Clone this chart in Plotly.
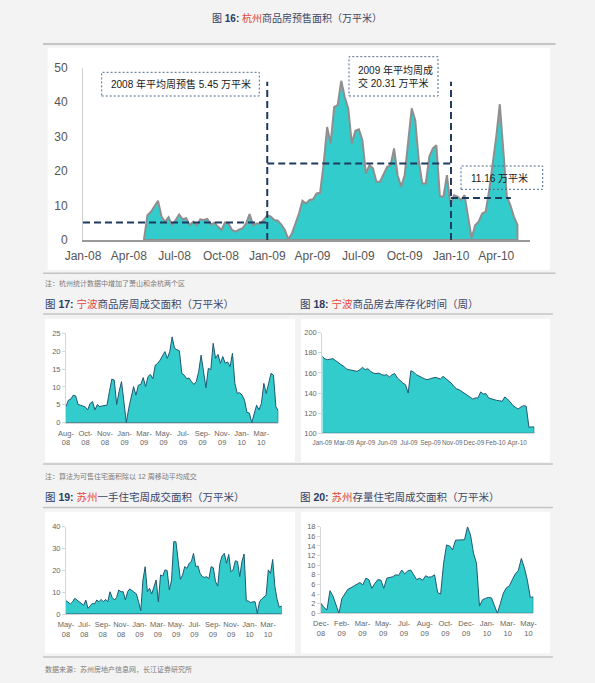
import plotly.graph_objects as go
import pandas as pd

W, H = 595, 683

# ---------------- data ----------------
# Fig 16: Hangzhou weekly pre-sale area (10k m2), weekly from hz_start
hz_start = "2008-05-01"
hz_presale = [
    0, 7.2, 8.2, 9.7, 11.4, 6.8, 5.3, 6.6, 4.3, 5.8,
    7.4, 6.0, 6.3, 4.3, 5.3, 4.3, 6.0, 5.8, 6.1, 4.5,
    5.0, 3.9, 2.9, 5.1, 4.8, 2.9, 2.4, 3.0, 3.4, 4.8,
    7.5, 4.3, 4.8, 4.8, 5.8, 7.2, 6.8, 5.8, 5.6, 4.5,
    2.9, 0.2, 1.9, 4.8, 7.7, 11.4, 10.6, 11.6, 11.8, 13.5,
    13.7, 22.0, 32.8, 28.0, 38.6, 39.1, 46.2, 41.5, 38.2, 28.0,
    31.7, 32.1, 29.0, 19.3, 21.7, 20.8, 16.9, 16.9, 19.3, 21.2,
    21.7, 26.6, 18.8, 15.5, 18.8, 28.0, 38.2, 34.8, 23.2, 16.4,
    16.4, 24.2, 26.6, 27.5, 12.6, 12.6, 18.8, 10.1, 13.0, 12.6,
    11.6, 13.0, 6.3, 0.5, 4.3, 5.3, 7.7, 8.2, 14.5, 22.2,
    30.0, 39.4, 27.0, 12.6, 10.1, 6.8, 4.4,
]
hz_tick_dates = ["2008-01-01", "2008-04-01", "2008-07-01", "2008-10-01", "2009-01-01",
                 "2009-04-01", "2009-07-01", "2009-10-01", "2010-01-01", "2010-04-01"]
hz_tick_labels = ["Jan-08", "Apr-08", "Jul-08", "Oct-08", "Jan-09",
                  "Apr-09", "Jul-09", "Oct-09", "Jan-10", "Apr-10"]
hz_avg_start = ["2008-01-01", "2009-01-01", "2010-01-01"]
hz_avg_end = ["2009-01-01", "2010-01-01", "2010-04-30"]
hz_avg_level = [5.1, 22.2, 12.2]
hz_divider_dates = ["2009-01-01", "2010-01-01"]
hz_divider_top = 45.9
hz_box_texts = ["2008 年平均周预售 5.45 万平米", "2009 年平均周成<br>交 20.31 万平米", "11.16 万平米"]

# Fig 17: Ningbo weekly transaction area (10k m2)
nb_deal = [
    4.5, 6.3, 6.6, 7.7, 7.5, 5.1, 4.9, 4.7, 4.4, 3.6,
    5.4, 5.9, 3.6, 5.1, 4.5, 4.7, 4.7, 4.9, 8.7, 12.2,
    11.9, 5.1, 8.7, 11.5, 5.9, 0.0, 4.0, 6.8, 10.1, 7.7,
    10.5, 10.7, 12.6, 10.1, 12.9, 13.5, 12.3, 16.1, 16.6, 17.5,
    18.9, 19.9, 18.0, 19.9, 24.0, 20.8, 20.4, 20.1, 13.8, 13.3,
    12.3, 12.5, 11.5, 10.7, 11.5, 14.3, 18.9, 14.3, 9.8, 15.2,
    14.8, 22.2, 18.0, 19.1, 16.6, 18.5, 16.6, 17.0, 15.7, 19.4,
    11.0, 8.2, 8.4, 7.7, 6.3, 2.9, 2.7, 0.0, 2.6, 4.9,
    3.6, 5.4, 11.0, 8.2, 11.0, 13.8, 13.3, 4.5, 3.3,
]
nb_deal_labels = ["Aug-<br>08", "Oct-<br>08", "Nov-<br>08", "Jan-<br>09", "Mar-<br>09", "May-<br>09",
                  "Jul-<br>09", "Sep-<br>09", "Nov-<br>09", "Jan-<br>10", "Mar-<br>10"]

# Fig 18: Ningbo inventory clearance time (weeks)
nb_weeks = [
    176.5, 173.9, 173.2, 173.9, 174.2, 172.2, 169.9, 168.2, 166.6, 163.9,
    163.2, 162.9, 162.2, 161.6, 163.2, 165.6, 163.2, 164.2, 161.6, 159.9,
    159.3, 159.9, 158.5, 157.7, 158.3, 156.0, 158.3, 159.3, 155.0, 152.3,
    150.0, 148.3, 140.0, 162.2, 161.0, 158.3, 156.6, 155.6, 154.3, 153.3,
    154.0, 155.0, 155.6, 155.0, 154.0, 156.6, 154.3, 151.7, 150.0, 146.7,
    144.3, 143.3, 141.7, 139.4, 138.4, 136.1, 134.1, 135.1, 135.1, 141.1,
    139.1, 139.4, 135.1, 134.1, 133.4, 132.7, 132.4, 131.8, 136.1, 134.1,
    131.1, 127.8, 125.8, 124.2, 126.1, 127.5, 126.8, 106.0, 106.3, 106.3,
]
nb_weeks_labels = ["Jan-09", "Mar-09", "Apr-09", "Jun-09", "Jul-09", "Sep-09", "Nov-09",
                   "Dec-09", "Feb-10", "Apr-10"]

# Fig 19: Suzhou new housing weekly transaction area (10k m2)
sz_new = [
    6.1, 5.2, 4.6, 5.6, 7.2, 6.4, 5.6, 4.9, 4.0, 6.4,
    2.6, 3.7, 4.9, 4.6, 6.4, 5.6, 6.7, 5.6, 6.7, 5.6,
    10.2, 7.6, 6.4, 7.6, 11.0, 10.2, 10.2, 6.4, 10.2, 11.5,
    10.7, 9.8, 9.2, 5.6, 1.5, 15.6, 21.7, 10.2, 11.8, 9.2,
    12.5, 15.6, 5.6, 17.9, 17.4, 20.2, 19.9, 11.0, 15.6, 33.1,
    33.1, 24.7, 15.9, 17.9, 21.7, 20.9, 23.2, 24.0, 27.8, 21.7,
    22.0, 18.6, 17.1, 16.8, 17.1, 16.2, 21.7, 21.2, 14.8, 12.8,
    23.2, 26.6, 27.8, 23.2, 27.3, 19.4, 20.2, 24.4, 24.0, 17.1,
    24.0, 27.5, 6.1, 5.9, 5.2, 5.6, 5.6, 0.3, 5.6, 6.9,
    7.9, 8.6, 20.2, 18.6, 25.0, 12.5, 6.7, 3.1, 3.7,
]
sz_new_labels = ["May-<br>08", "Jul-<br>08", "Sep-<br>08", "Nov-<br>08", "Jan-<br>09", "Mar-<br>09",
                 "May-<br>09", "Jul-<br>09", "Sep-<br>09", "Nov-<br>09", "Jan-<br>10", "Mar-<br>10"]

# Fig 20: Suzhou existing housing weekly transaction area (10k m2)
sz_resale = [
    2.1, 1.2, 0.7, 4.7, 3.6, 1.9, 0.0, 3.1, 4.2, 5.0,
    5.3, 5.7, 6.1, 6.4, 5.9, 7.3, 7.0, 5.2, 6.2, 7.0,
    6.9, 5.2, 7.3, 7.4, 7.6, 8.0, 7.9, 9.0, 8.2, 8.8,
    9.0, 8.0, 7.0, 7.3, 6.9, 7.8, 7.5, 7.6, 8.0, 4.3,
    4.0, 10.4, 14.2, 14.0, 13.2, 15.2, 15.2, 15.2, 15.3, 18.0,
    16.3, 12.5, 10.4, 1.5, 2.8, 3.1, 3.3, 3.2, 1.5, 0.0,
    2.1, 4.2, 5.3, 5.7, 7.0, 8.2, 8.9, 11.4, 9.5, 6.9,
    3.3, 3.4,
]
sz_resale_labels = ["Dec-<br>08", "Feb-<br>09", "Mar-<br>09", "May-<br>09", "Jul-<br>09", "Aug-<br>09",
                    "Oct-<br>09", "Dec-<br>09", "Jan-<br>10", "Mar-<br>10", "May-<br>10"]

# ---------------- style ----------------
PAGE_BG = "#f3f3f3"
TEAL = "#33cccc"
DARK_LINE = "#1f5873"
NAVY = "#1f3a60"
SEP = "#c4c4c4"
LAT = "Liberation Sans, Arial, Noto Sans CJK SC"
NARROW = "Liberation Sans Narrow, Arial Narrow, Liberation Sans"
CJK = "Liberation Sans, Noto Sans CJK SC"


def px(x):
    return x / W


def py(y):
    return 1 - y / H


fig = go.Figure()

# ---------- panels / separators ----------
panels = [(47.7, 47.7, 550, 270), (45, 319, 295, 462), (301, 319, 550, 462),
          (45, 511.7, 295, 653.5), (301, 511.7, 550, 653.5)]
for x0, y0, x1, y1 in panels:
    fig.add_shape(type="rect", xref="paper", yref="paper", x0=px(x0), x1=px(x1), y0=py(y1), y1=py(y0),
                  fillcolor="white", line_width=0, layer="below")
seps = [(43, 555.5, 44, 2), (43, 555.5, 273.3, 1.5), (43, 553, 314, 1.5), (43, 553, 464, 1.5),
        (43, 553, 507.5, 1.5), (43, 553, 657, 1.5)]
for x0, x1, y, w in seps:
    fig.add_shape(type="line", xref="paper", yref="paper", x0=px(x0), x1=px(x1), y0=py(y), y1=py(y),
                  line=dict(color=SEP, width=w), layer="below")

# ---------- Fig 16 main ----------
hz_dates = pd.date_range(hz_start, periods=len(hz_presale), freq="7D")
hz_x = list(hz_dates) + [hz_dates[-1], hz_dates[0]]
hz_y = list(hz_presale) + [0, 0]
fig.add_trace(go.Scatter(x=hz_x, y=hz_y, mode="lines", fill="toself", fillcolor=TEAL,
                         line=dict(color="#8f8f8f", width=2), xaxis="x", yaxis="y",
                         showlegend=False, hoverinfo="skip"))

dash_style = "7px,4px"
for s, e, lv in zip(hz_avg_start, hz_avg_end, hz_avg_level):
    fig.add_shape(type="line", xref="x", yref="y", x0=s, x1=e, y0=lv, y1=lv,
                  line=dict(color=NAVY, width=2, dash=dash_style))
for d in hz_divider_dates:
    fig.add_shape(type="line", xref="x", yref="y", x0=d, x1=d, y0=0, y1=hz_divider_top,
                  line=dict(color=NAVY, width=2, dash=dash_style))

boxes = [(101.7, 72.3, 259.3, 96), (349, 56.7, 438, 96), (461, 166, 542.7, 189.3)]
for x0, y0, x1, y1 in boxes:
    fig.add_shape(type="rect", xref="paper", yref="paper", x0=px(x0), x1=px(x1), y0=py(y1), y1=py(y0),
                  line=dict(color="#4d6a8c", width=1, dash="2px,2px"), fillcolor="rgba(0,0,0,0)")
box_text_pos = [(180.5, 84.5, "center", "center"), (356, 76.5, "left", "left"), (469, 177.5, "left", "left")]
for (tx, ty, xa, al), t in zip(box_text_pos, hz_box_texts):
    fig.add_annotation(x=px(tx), y=py(ty), xref="paper", yref="paper", text=t, showarrow=False,
                       xanchor=xa, yanchor="middle", align=al,
                       font=dict(family=CJK, size=10, color="#1a1a1a"))

# ---------- small charts ----------
def add_area(values, base, xa, ya):
    n = len(values)
    xs = list(range(n)) + [n - 1, 0]
    ys = list(values) + [base, base]
    fig.add_trace(go.Scatter(x=xs, y=ys, mode="lines", fill="toself", fillcolor=TEAL,
                             line=dict(color=DARK_LINE, width=1), xaxis=xa, yaxis=ya,
                             showlegend=False, hoverinfo="skip"))


add_area(nb_deal, 0, "x2", "y2")
add_area(nb_weeks, 100, "x3", "y3")
add_area(sz_new, 0, "x4", "y4")
add_area(sz_resale, 0, "x5", "y5")

small_font = dict(family=NARROW, size=7.5, color="#666666")
axis_common_y = dict(showgrid=False, zeroline=False, showline=True, linecolor="#d6d6d6", linewidth=1,
                     ticks="outside", ticklen=3, tickcolor="#d6d6d6", automargin=False,
                     tickfont=small_font)
axis_common_x = dict(showgrid=False, zeroline=False, showline=True, linecolor="#d6d6d6", ticks="",
                     tickmode="array", tickangle=0, automargin=False, ticklabelstandoff=3)


def ticks_for(labels, step):
    return [i * step for i in range(len(labels))]


layout = dict(
    template="none",
    width=W, height=H, margin=dict(l=0, r=0, t=0, b=0, pad=0), autosize=False,
    paper_bgcolor=PAGE_BG, plot_bgcolor="rgba(0,0,0,0)", showlegend=False,
    xaxis=dict(domain=[px(83), px(530)], type="date", range=["2008-01-01", "2010-06-07"],
               tickmode="array", tickvals=hz_tick_dates, ticktext=hz_tick_labels,
               showgrid=False, zeroline=False, showline=True, linecolor="#9a9a9a", linewidth=1.5,
               ticks="", ticklabelstandoff=4, automargin=False, tickangle=0,
               tickfont=dict(family=LAT, size=12, color="#555555"), anchor="y"),
    yaxis=dict(domain=[py(240), py(67.7)], range=[0, 50], dtick=10, tickmode="linear", tick0=0,
               showgrid=False, zeroline=False, showline=True, linecolor="#cfcfcf", linewidth=1,
               ticks="", ticklabelstandoff=12, automargin=False,
               tickfont=dict(family=LAT, size=12, color="#555555"), anchor="x"),
    xaxis2=dict(domain=[px(66), px(278.3)], range=[0, len(nb_deal) - 1], anchor="y2",
                tickvals=ticks_for(nb_deal_labels, 8.09), ticktext=nb_deal_labels,
                tickfont=small_font, **axis_common_x),
    yaxis2=dict(domain=[py(422.7), py(333.3)], range=[0, 25], dtick=5, tickmode="linear", tick0=0,
                anchor="x2", **axis_common_y),
    xaxis3=dict(domain=[px(322.3), px(534.3)], range=[0, len(nb_weeks) - 1], anchor="y3",
                tickvals=ticks_for(nb_weeks_labels, 8.07), ticktext=nb_weeks_labels,
                tickfont=dict(family=NARROW, size=6.4, color="#666666"), **axis_common_x),
    yaxis3=dict(domain=[py(433.3), py(332.7)], range=[100, 200], dtick=20, tickmode="linear", tick0=100,
                anchor="x3", **axis_common_y),
    xaxis4=dict(domain=[px(66), px(281.5)], range=[0, len(sz_new) - 1], anchor="y4",
                tickvals=ticks_for(sz_new_labels, 8.35), ticktext=sz_new_labels,
                tickfont=small_font, **axis_common_x),
    yaxis4=dict(domain=[py(614), py(526.7)], range=[0, 40], dtick=10, tickmode="linear", tick0=0,
                anchor="x4", **axis_common_y),
    xaxis5=dict(domain=[px(321), px(533.3)], range=[0, len(sz_resale) - 1], anchor="y5",
                tickvals=ticks_for(sz_resale_labels, 6.94), ticktext=sz_resale_labels,
                tickfont=small_font, **axis_common_x),
    yaxis5=dict(domain=[py(613.3), py(526.7)], range=[0, 18], dtick=2, tickmode="linear", tick0=0,
                anchor="x5", **axis_common_y),
)
fig.update_layout(**layout)

# ---------- titles & notes ----------
def title_html(num, city, rest):
    return (f"<span style='color:#2c3b63'>图 <b>{num}:</b> </span>"
            f"<span style='color:#e5453c'>{city}</span>"
            f"<span style='color:#3e4868'>{rest}</span>")


titles = [
    (297, 18, "center", title_html("16", "杭州", "商品房预售面积（万平米）"), 10),
    (43, 304, "left", title_html("17", "宁波", "商品房周成交面积（万平米）"), 10.5),
    (298, 304, "left", title_html("18", "宁波", "商品房去库存化时间（周）"), 10.5),
    (43, 497, "left", title_html("19", "苏州", "一手住宅周成交面积（万平米）"), 10.5),
    (298, 497, "left", title_html("20", "苏州", "存量住宅周成交面积（万平米）"), 10.5),
]
for x, y, xa, t, s in titles:
    fig.add_annotation(x=px(x), y=py(y), xref="paper", yref="paper", text=t, showarrow=False,
                       xanchor=xa, yanchor="middle", font=dict(family=CJK, size=s))

notes = [
    (43, 283, "注：杭州统计数据中增加了萧山和余杭两个区"),
    (43, 476, "注：算法为可售住宅面积除以 12 周移动平均成交"),
    (43, 669, "数据来源：苏州房地产信息网，长江证券研究所"),
]
for x, y, t in notes:
    fig.add_annotation(x=px(x), y=py(y), xref="paper", yref="paper", text=t, showarrow=False,
                       xanchor="left", yanchor="middle", font=dict(family=CJK, size=7, color="#7a7a7a"))

fig.write_html("out.html", config={"displayModeBar": False},
               post_script="document.body.style.margin='0px';document.body.style.overflow='hidden';")
